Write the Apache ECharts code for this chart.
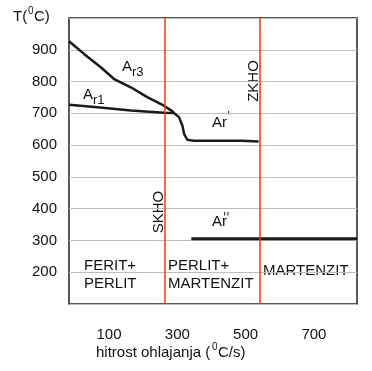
<!DOCTYPE html>
<html><head><meta charset="utf-8">
<script src="https://cdn.jsdelivr.net/npm/echarts@6/dist/echarts.min.js"></script>
<style>html,body{margin:0;padding:0;background:#fff}#c{width:372px;height:371px}</style>
</head><body><div id="c"></div>
<script>
// Ar3 curve
const ar3X = [-17, 27, 76, 115, 164, 212, 261, 285, 290];
const ar3Y = [927, 887, 845, 808, 782, 751, 724, 707, 701];
// Ar1 -> Ar' curve
const ar1X = [-17, 66, 164, 261, 290, 305, 315, 320, 329, 349, 487, 538];
const ar1Y = [727, 719, 709, 702, 701, 688, 661, 635, 617, 614, 614, 611];
// Ar'' line
const ar2X = [341, 826];
const ar2Y = [305, 305];
// critical cooling rates
const skho = 264;
const zkho = 542;
const xTicks = [100, 300, 500, 700];
const yTicks = [200, 300, 400, 500, 600, 700, 800, 900];

const F = 'Liberation Sans, Arial, sans-serif';
const C = '#111';
const zip = (xs, ys) => xs.map((x, i) => [x, ys[i]]);
const txt = (x, y, s, size, extra) => ({
  type: 'text', x: x, y: y,
  style: Object.assign({text: s, font: size + 'px ' + F, fill: C, textVerticalAlign: 'middle'}, extra || {})
});
const prime = (x, y, s) => ({
  type: 'text', x: x, y: y,
  style: {text: s, font: '12px DejaVu Sans', fill: C, textVerticalAlign: 'top'}
});

const chart = echarts.init(document.getElementById('c'));
chart.setOption({
  animation: false,
  grid: {left: 69, right: 15, top: 18, bottom: 67, show: true, borderColor: '#222', borderWidth: 1.5},
  xAxis: {
    type: 'value', min: -17, max: 826,
    axisLine: {show: false}, axisTick: {show: false},
    splitLine: {show: false},
    axisLabel: {customValues: xTicks, margin: 23, fontSize: 15, color: C, fontFamily: F}
  },
  yAxis: {
    type: 'value', min: 100, max: 1000, interval: 100,
    axisLine: {show: false}, axisTick: {show: false},
    splitLine: {show: true, lineStyle: {color: '#bdbdbd', width: 1}},
    axisLabel: {margin: 12, fontSize: 15, color: C, fontFamily: F,
      formatter: v => yTicks.indexOf(v) >= 0 ? String(v) : ''}
  },
  series: [
    {type: 'line', data: zip(ar3X, ar3Y), showSymbol: false,
      lineStyle: {color: '#1a1a1a', width: 2.5}},
    {type: 'line', data: zip(ar1X, ar1Y), showSymbol: false,
      lineStyle: {color: '#1a1a1a', width: 2.5}},
    {type: 'line', data: zip(ar2X, ar2Y), showSymbol: false,
      lineStyle: {color: '#1a1a1a', width: 3},
      markLine: {silent: true, symbol: 'none', label: {show: false},
        lineStyle: {color: '#e83a14', width: 1.5, type: 'solid'},
        data: [{xAxis: skho}, {xAxis: zkho}]}}
  ],
  graphic: [
    txt(13, 17, 'T(', 15), txt(28, 11, '0', 10), txt(34, 17, 'C)', 15),
    txt(122, 67, 'A', 15), txt(132, 72, 'r3', 13),
    txt(83, 95, 'A', 15), txt(93, 100, 'r1', 13),
    txt(212, 123, 'Ar', 15), prime(227, 111, '\''),
    txt(212, 222, 'Ar', 15), prime(223, 212, '\'\''),
    {type: 'text', x: 254, y: 81, rotation: Math.PI / 2,
      style: {text: 'ZKHO', font: '15px ' + F, fill: C, textAlign: 'center', textVerticalAlign: 'middle'}},
    {type: 'text', x: 159, y: 212, rotation: Math.PI / 2,
      style: {text: 'SKHO', font: '15px ' + F, fill: C, textAlign: 'center', textVerticalAlign: 'middle'}},
    txt(84, 266, 'FERIT+', 15), txt(84, 284, 'PERLIT', 15),
    txt(168, 266, 'PERLIT+', 15), txt(168, 284, 'MARTENZIT', 15),
    txt(263, 271, 'MARTENZIT', 15),
    txt(96, 353, 'hitrost ohlajanja (', 15), txt(212, 347, '0', 10), txt(218, 353, 'C/s)', 15)
  ]
});
</script></body></html>
